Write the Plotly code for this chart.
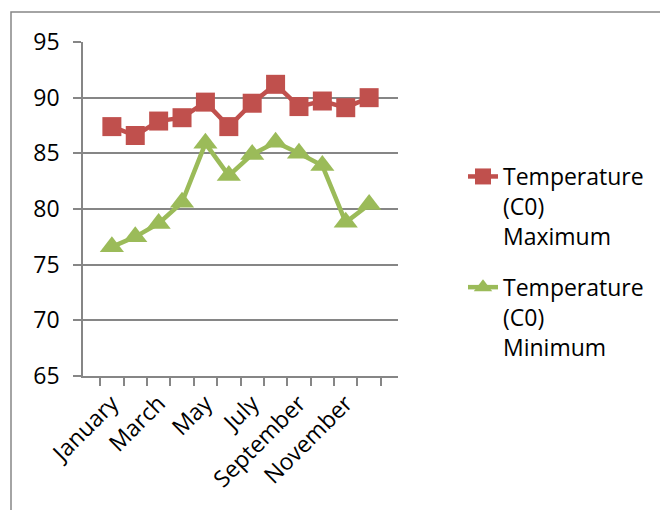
import plotly.graph_objects as go

months = ["January", "February", "March", "April", "May", "June", "July",
          "August", "September", "October", "November", "December"]
tmax = [87.4, 86.6, 87.9, 88.2, 89.6, 87.4, 89.5, 91.2, 89.2, 89.7, 89.1, 90.0]
tmin = [76.6, 77.5, 78.7, 80.6, 85.9, 83.0, 84.9, 86.0, 85.0, 83.9, 78.8, 80.4]
tick_text = [m if i % 2 == 0 else "" for i, m in enumerate(months)]
yticks = [65, 70, 75, 80, 85, 90, 95]

# page body has an 8px margin; figure is sized to fit the window
OFF = 8
W, H = 668 - OFF, 510 - OFF
ml, mt = 83 - OFF, 42 - OFF
mr, mb = W - (398 - OFF), H - (376 - OFF)
pw, ph = W - ml - mr, H - mt - mb

font = dict(family="Open Sans, Noto Sans, sans-serif", size=23, color="black")
grid = "#868686"

fig = go.Figure()
fig.add_trace(go.Scatter(
    x=months, y=tmax, mode="lines+markers",
    name="Temperature<br>(C0)<br>Maximum", legendgroup="a",
    line=dict(color="#C0504D", width=4.5),
    marker=dict(symbol="square", size=19, color="#C0504D"),
))
fig.add_trace(go.Scatter(
    x=months, y=tmin, mode="lines+markers",
    name="Temperature<br>(C0)<br>Minimum", legendgroup="b",
    line=dict(color="#9BBB59", width=4.5),
    marker=dict(symbol="triangle-up", size=21, color="#9BBB59"),
))

fig.update_layout(
    width=W, height=H,
    margin=dict(l=ml, r=mr, t=mt, b=mb, autoexpand=False),
    paper_bgcolor="white", plot_bgcolor="white",
    font=font,
    showlegend=True,
    legend=dict(xref="container", yref="container",
                x=455 / W, y=1 - 147 / H, xanchor="left", yanchor="top",
                valign="top", tracegroupgap=18, font=font,
                bgcolor="rgba(0,0,0,0)"),
    xaxis=dict(type="category", tickmode="array", tickvals=months,
               ticktext=tick_text, tickangle=-45, tickson="boundaries",
               ticks="outside", ticklen=8, tickcolor=grid, tickwidth=1.5,
               showline=True, linecolor=grid, linewidth=1.5,
               showgrid=False, zeroline=False, automargin=False,
               ticklabelstandoff=3),
    yaxis=dict(range=[65, 95], tickvals=yticks, ticks="outside", ticklen=8,
               tickcolor=grid, tickwidth=1.5, showline=True, linecolor=grid,
               linewidth=1.5, showgrid=True, gridcolor=grid, gridwidth=1.5,
               zeroline=False, ticklabelstandoff=9, automargin=False),
    shapes=[dict(type="rect", xref="paper", yref="paper",
                 x0=(3 - ml) / pw, x1=(W + 10 - ml) / pw,
                 y0=(H - mb - (H + 10)) / ph, y1=(H - mb - 4) / ph,
                 line=dict(color="#868686", width=1.5), layer="below")],
)

fig.write_html("out.html")
